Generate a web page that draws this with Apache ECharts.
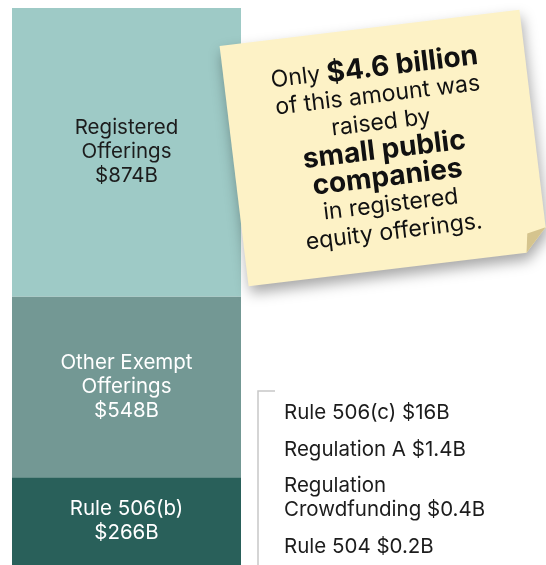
<!DOCTYPE html>
<html>
<head>
<meta charset="utf-8">
<script src="https://cdn.jsdelivr.net/npm/echarts@6/dist/echarts.min.js"></script>
<style>
  html, body { margin: 0; padding: 0; background: #fff; }
  #container { width: 546px; height: 565px; }
</style>
</head>
<body>
<div id="container"></div>
<script>
// main stacked bar, bottom to top
var segNames = ['Rule 506(b)', 'Other Exempt\nOfferings', 'Registered\nOfferings'];
var segValues = [266, 548, 874];
var segColors = ['#29605a', '#739894', '#9ecac6'];
var segLabelColors = ['#ffffff', '#ffffff', '#1c1c1c'];

// small exempt offerings listed beside the bar
var smallNames = ['Rule 506(c)', 'Regulation A', 'Regulation\nCrowdfunding', 'Rule 504'];
var smallValues = [16, 1.4, 0.4, 0.2];

var fontFam = 'Inter, "Noto Sans", sans-serif';

var dom = document.getElementById('container');
var myChart = echarts.init(dom);

var series = segValues.map(function (v, i) {
  return {
    name: segNames[i],
    type: 'bar',
    stack: 'total',
    barWidth: '100%',
    data: [v],
    itemStyle: { color: segColors[i] },
    label: {
      show: true,
      position: 'inside',
      color: segLabelColors[i],
      fontFamily: fontFam,
      fontSize: 20.5,
      lineHeight: 24,
      formatter: function () { return segNames[i] + '\n$' + v + 'B'; }
    }
  };
});

// list next to the bracket
var listText = smallNames.map(function (n, i) {
  return n + ' $' + smallValues[i] + 'B';
});

var listGraphics = [];
var yPos = [413, 450, 498, 547];   // centre of each entry
listText.forEach(function (t, i) {
  listGraphics.push({
    type: 'text',
    x: 284,
    y: yPos[i],
    style: {
      text: t,
      fill: '#1c1c1c',
      font: '20.5px ' + fontFam,
      lineHeight: 24,
      verticalAlign: 'middle'
    }
  });
});

option = {
  animation: false,
  grid: { left: 12, right: 305, top: 8, bottom: 0 },
  xAxis: { type: 'category', data: ['Total'], show: false },
  yAxis: { type: 'value', min: 0, max: 1688, show: false },
  series: series,
  graphic: [
    {
      type: 'polyline',
      shape: { points: [[275, 391], [258, 391], [258, 565]] },
      style: { stroke: '#c8c8c8', lineWidth: 1.5, fill: null }
    }
  ].concat(listGraphics).concat([
    {
      // sticky note
      type: 'group',
      x: 384,
      y: 148,
      rotation: 0.12,
      z: 100,
      children: [
        {
          type: 'polygon',
          z: 100,
          shape: { points: [[-151, -121], [151, -121], [151, 98], [129, 121], [-151, 121]] },
          style: {
            fill: '#fdf2c6',
            shadowBlur: 14,
            shadowColor: 'rgba(0,0,0,0.35)',
            shadowOffsetX: 2,
            shadowOffsetY: 7
          }
        },
        {
          type: 'polygon',
          z: 101,
          shape: { points: [[151, 98], [129, 121], [132, 102]] },
          style: { fill: '#d5c48e' }
        },
        {
          type: 'text',
          z: 102,
          x: 0,
          y: 2,
          style: {
            text: '{n|Only }{b|$4.6 billion}\n{n|of this amount was}\n{n|raised by}\n{b|small public}\n{b|companies}\n{n|in registered}\n{n|equity offerings.}',
            align: 'center',
            verticalAlign: 'middle',
            fill: '#111',
            rich: {
              n: { fontFamily: fontFam, fontSize: 23, lineHeight: 27.5, fill: '#111' },
              b: { fontFamily: fontFam, fontSize: 28, fontWeight: 'bold', lineHeight: 27.5, fill: '#111' }
            }
          }
        }
      ]
    }
  ])
};

if (option && typeof option === 'object') {
  myChart.setOption(option, true);
}
</script>
</body>
</html>
